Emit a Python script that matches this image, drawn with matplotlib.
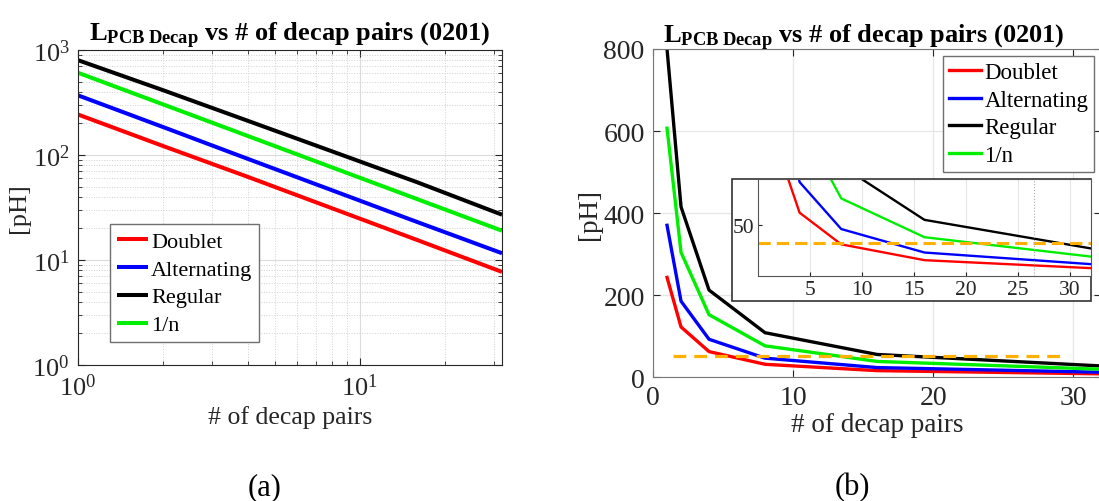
import matplotlib
matplotlib.use("Agg")
import matplotlib.pyplot as plt
from matplotlib.patches import Rectangle

plt.rcParams['font.family'] = ['Liberation Serif', 'DejaVu Serif']
plt.rcParams['mathtext.fontset'] = 'custom'
plt.rcParams['mathtext.rm'] = 'Liberation Serif'
plt.rcParams['mathtext.it'] = 'Liberation Serif:italic'
plt.rcParams['mathtext.bf'] = 'Liberation Serif:bold'

# data
n_pairs = [1, 2, 4, 8, 16, 32]
doublet = [243, 122, 62, 31, 15.5, 7.7]
alternating = [370, 185, 92, 46, 23, 11.6]
regular = [800, 415, 212, 108, 55, 27]
inv_n = [607, 304, 152, 76, 38, 19]
labels = ['Doublet', 'Alternating', 'Regular', '1/n']
colors = ['#ff0000', '#0000ff', '#000000', '#00ee00']
series = [doublet, alternating, regular, inv_n]

target_x = [1.4, 29.6]
target_main = [52, 52]
target_inset = 32
marker_x = 26.5

title = r'$\mathbf{L_{PCB\ Decap}}$ vs # of decap pairs (0201)'
txt = '#262626'

fig = plt.figure(figsize=(10.99, 5.02), dpi=100)

# (a) log-log
ax1 = fig.add_axes([0.0710, 0.2709, 0.3858, 0.6275])
for y, c, l in zip(series, colors, labels):
    ax1.loglog(n_pairs, y, color=c, lw=2.9, label=l, solid_capstyle='butt')
ax1.set_xlim(1, 32)
ax1.set_ylim(1, 1000)
ax1.grid(True, which='major', color='#dcdcdc', lw=0.8)
ax1.grid(True, which='minor', color='#d0d0d0', lw=0.7, ls=':')
ax1.tick_params(which='both', direction='in', top=True, right=True, colors=txt,
                labelsize=19, pad=6)
ax1.tick_params(which='major', length=5)
ax1.tick_params(which='minor', length=3)
ax1.set_xlabel('# of decap pairs', fontsize=18.5, color=txt, labelpad=4)
ax1.set_ylabel('[pH]', fontsize=19, color=txt, labelpad=2)
ax1.set_title(title, fontsize=19, fontweight='bold', pad=5)
leg1 = ax1.legend(loc='lower left', bbox_to_anchor=(0.0755, 0.073), borderaxespad=0,
                  fontsize=16, fancybox=False, edgecolor='#707070', framealpha=1,
                  handlelength=1.4, handletextpad=0.15, labelspacing=0.33,
                  borderpad=0.3)
leg1.get_frame().set_linewidth(1.0)
for s in ax1.spines.values():
    s.set_color(txt)

# (b) linear
ax2 = fig.add_axes([0.5942, 0.2470, 0.4077, 0.6534])
for y, c, l in zip(series, colors, labels):
    ax2.plot(n_pairs, y, color=c, lw=2.4, label=l)
ax2.plot(target_x, target_main, color='#ffb000', lw=2.3, ls=(0, (4, 2.5)))
ax2.set_xlim(0, 32)
ax2.set_ylim(0, 800)
ax2.set_xticks([0, 10, 20, 30])
ax2.set_yticks([0, 200, 400, 600, 800])
ax2.grid(True, color='#e6e6e6', lw=0.9)
ax2.tick_params(direction='in', top=True, right=True, colors=txt, labelsize=20,
                pad=6, length=5)
ax2.set_xlabel('# of decap pairs', fontsize=19.5, color=txt, labelpad=1)
ax2.set_ylabel('[pH]', fontsize=19.5, color=txt, labelpad=1)
ax2.set_title(title, fontsize=19, fontweight='bold', pad=5, x=0.47)
leg2 = ax2.legend(loc='upper right', bbox_to_anchor=(0.984, 0.979), borderaxespad=0,
                  fontsize=16.5, fancybox=False, edgecolor='#707070', framealpha=1,
                  handlelength=1.4, handletextpad=0.15, labelspacing=0.3,
                  borderpad=0.25)
leg2.get_frame().set_linewidth(1.0)
for s in ax2.spines.values():
    s.set_color('#777777')

# inset box and inset axes
box = Rectangle((0.666, 0.3984), 0.3267, 0.243, transform=fig.transFigure,
                facecolor='white', edgecolor='#333333', lw=1.2, zorder=3)
fig.patches.append(box)
ax3 = fig.add_axes([0.6897, 0.4482, 0.303, 0.1932], zorder=4)
for y, c in zip(series, colors):
    ax3.plot(n_pairs, y, color=c, lw=1.7)
ax3.axhline(target_inset, color='#ffb000', lw=2.2, ls=(0, (4, 2)))
ax3.axvline(marker_x, color='#aaaaaa', lw=0.8, ls=':')
ax3.set_xlim(0, 32)
ax3.set_ylim(0, 95)
ax3.set_xticks([5, 10, 15, 20, 25, 30])
ax3.set_yticks([50])
ax3.grid(True, axis='x', color='#e6e6e6', lw=0.8)
ax3.tick_params(direction='in', colors=txt, labelsize=15.5, pad=3, length=3)
for s in ax3.spines.values():
    s.set_color('#555555')

fig.text(0.241, 0.029, '(a)', fontsize=22, color='black', ha='center', va='center')
fig.text(0.776, 0.029, '(b)', fontsize=22, color='black', ha='center', va='center')

fig.savefig('out.png', dpi=100)
